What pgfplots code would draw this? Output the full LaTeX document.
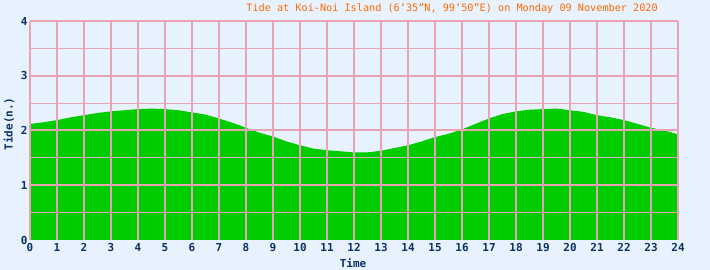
\documentclass[border=0pt]{standalone}
\usepackage{fontspec}
\setmainfont{DejaVu Sans Mono}
\usepackage{pgfplots}
\pgfplotsset{compat=1.18}
\definecolor{bg}{HTML}{E8F2FE}
\definecolor{gridc}{HTML}{E8A3B4}
\definecolor{fillg}{HTML}{00CC00}
\definecolor{navy}{HTML}{0A3264}
\definecolor{titlec}{HTML}{FF6A00}
\begin{document}
\begin{tikzpicture}[x=1pt,y=1pt]
\fill[bg] (0,0) rectangle (710,270);
\useasboundingbox (0,0) rectangle (710,270);
\begin{axis}[
  at={(30pt,30pt)}, anchor=south west,
  scale only axis, width=648pt, height=219pt,
  xmin=0, xmax=24, ymin=0, ymax=4,
  xtick={0,...,24}, ytick={1,2,3,4},
  minor ytick={0.5,1.5,2.5,3.5},
  extra y ticks={0}, extra y tick style={grid=none},
  grid=both,
  major grid style={gridc, line width=2pt},
  minor grid style={gridc, line width=1pt},
  axis line style={draw=none},
  major tick length=0pt, minor tick length=0pt,
  axis on top,
  /pgf/number format/assume math mode=true,
  tick label style={font=\bfseries\fontsize{11}{11}\selectfont, text=navy},
  yticklabel style={xshift=1pt},
]
\addplot[fill=fillg, draw=none] coordinates {
(0,2.12) (0.5,2.15) (1,2.19) (1.5,2.24) (2,2.28) (2.5,2.32) (3,2.35) (3.5,2.37)
(4,2.39) (4.5,2.40) (5,2.39) (5.5,2.37) (6,2.33) (6.5,2.29) (7,2.22) (7.5,2.14)
(8,2.05) (8.5,1.96) (9,1.89) (9.5,1.80) (10,1.73) (10.5,1.67) (11,1.64) (11.5,1.62)
(12,1.60) (12.5,1.60) (13,1.63) (13.5,1.68) (14,1.73) (14.5,1.80) (15,1.88) (15.5,1.94)
(16,2.02) (16.5,2.12) (17,2.22) (17.5,2.30) (18,2.35) (18.5,2.38) (19,2.39) (19.5,2.40)
(20,2.37) (20.5,2.34) (21,2.28) (21.5,2.24) (22,2.19) (22.5,2.12) (23,2.05) (23.5,2.00)
(24,1.93)
} \closedcycle;
\end{axis}
\node[anchor=east, text=titlec, font=\fontsize{10.2}{10.2}\selectfont, inner sep=0pt] at (658,261.5) {Tide at Koi-Noi Island (6’35"N, 99’50"E) on Monday 09 November 2020};
\node[rotate=90, text=navy, font=\bfseries\fontsize{11}{11}\selectfont, inner sep=0pt] at (9,146) {Tide(n.)};
\node[text=navy, font=\bfseries\fontsize{11}{11}\selectfont, inner sep=0pt] at (353,7) {Time};
\end{tikzpicture}
\end{document}
